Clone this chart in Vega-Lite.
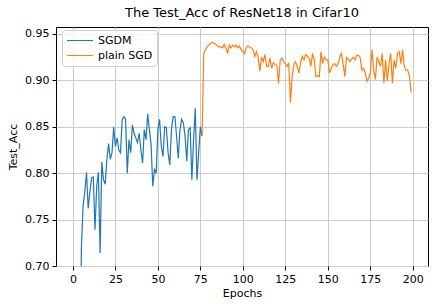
{
  "$schema": "https://vega.github.io/schema/vega-lite/v6.json",
  "autosize": {"type": "none"},
  "width": 372,
  "height": 239,
  "padding": {"left": 56, "top": 27, "right": 8, "bottom": 42},
  "background": "white",
  "config": {
    "font": "DejaVu Sans",
    "view": {"stroke": "black", "strokeWidth": 1},
    "axis": {"labelFont": "DejaVu Sans", "titleFont": "DejaVu Sans", "labelFontSize": 11, "titleFontSize": 11, "titleFontWeight": "normal", "labelColor": "black", "titleColor": "black", "tickColor": "black", "tickSize": 4, "labelPadding": 3, "domain": false, "gridColor": "#cccccc", "gridWidth": 1, "gridOpacity": 1}
  },
  "title": {"text": "The Test_Acc of ResNet18 in Cifar10", "font": "DejaVu Sans", "fontSize": 13, "fontWeight": "normal", "color": "black", "anchor": "middle", "offset": 7},
  "data": {"values": [
    {"epoch":0,"acc":0.30,"series":"SGDM"},{"epoch":1,"acc":0.48,"series":"SGDM"},{"epoch":2,"acc":0.55,"series":"SGDM"},{"epoch":3,"acc":0.60,"series":"SGDM"},{"epoch":4,"acc":0.56,"series":"SGDM"},{"epoch":5,"acc":0.72,"series":"SGDM"},{"epoch":6,"acc":0.765,"series":"SGDM"},{"epoch":7,"acc":0.78,"series":"SGDM"},{"epoch":8,"acc":0.801,"series":"SGDM"},{"epoch":9,"acc":0.762,"series":"SGDM"},
    {"epoch":10,"acc":0.780,"series":"SGDM"},{"epoch":11,"acc":0.795,"series":"SGDM"},{"epoch":12,"acc":0.796,"series":"SGDM"},{"epoch":13,"acc":0.739,"series":"SGDM"},{"epoch":14,"acc":0.786,"series":"SGDM"},{"epoch":15,"acc":0.801,"series":"SGDM"},{"epoch":16,"acc":0.714,"series":"SGDM"},{"epoch":17,"acc":0.812,"series":"SGDM"},{"epoch":18,"acc":0.793,"series":"SGDM"},{"epoch":19,"acc":0.788,"series":"SGDM"},
    {"epoch":20,"acc":0.815,"series":"SGDM"},{"epoch":21,"acc":0.832,"series":"SGDM"},{"epoch":22,"acc":0.815,"series":"SGDM"},{"epoch":23,"acc":0.822,"series":"SGDM"},{"epoch":24,"acc":0.850,"series":"SGDM"},{"epoch":25,"acc":0.829,"series":"SGDM"},{"epoch":26,"acc":0.838,"series":"SGDM"},{"epoch":27,"acc":0.825,"series":"SGDM"},{"epoch":28,"acc":0.822,"series":"SGDM"},{"epoch":29,"acc":0.858,"series":"SGDM"},
    {"epoch":30,"acc":0.861,"series":"SGDM"},{"epoch":31,"acc":0.858,"series":"SGDM"},{"epoch":32,"acc":0.800,"series":"SGDM"},{"epoch":33,"acc":0.836,"series":"SGDM"},{"epoch":34,"acc":0.822,"series":"SGDM"},{"epoch":35,"acc":0.852,"series":"SGDM"},{"epoch":36,"acc":0.843,"series":"SGDM"},{"epoch":37,"acc":0.838,"series":"SGDM"},{"epoch":38,"acc":0.833,"series":"SGDM"},{"epoch":39,"acc":0.843,"series":"SGDM"},
    {"epoch":40,"acc":0.825,"series":"SGDM"},{"epoch":41,"acc":0.811,"series":"SGDM"},{"epoch":42,"acc":0.847,"series":"SGDM"},{"epoch":43,"acc":0.836,"series":"SGDM"},{"epoch":44,"acc":0.864,"series":"SGDM"},{"epoch":45,"acc":0.847,"series":"SGDM"},{"epoch":46,"acc":0.831,"series":"SGDM"},{"epoch":47,"acc":0.786,"series":"SGDM"},{"epoch":48,"acc":0.804,"series":"SGDM"},{"epoch":49,"acc":0.800,"series":"SGDM"},
    {"epoch":50,"acc":0.847,"series":"SGDM"},{"epoch":51,"acc":0.858,"series":"SGDM"},{"epoch":52,"acc":0.829,"series":"SGDM"},{"epoch":53,"acc":0.818,"series":"SGDM"},{"epoch":54,"acc":0.850,"series":"SGDM"},{"epoch":55,"acc":0.849,"series":"SGDM"},{"epoch":56,"acc":0.822,"series":"SGDM"},{"epoch":57,"acc":0.809,"series":"SGDM"},{"epoch":58,"acc":0.847,"series":"SGDM"},{"epoch":59,"acc":0.861,"series":"SGDM"},
    {"epoch":60,"acc":0.861,"series":"SGDM"},{"epoch":61,"acc":0.840,"series":"SGDM"},{"epoch":62,"acc":0.816,"series":"SGDM"},{"epoch":63,"acc":0.847,"series":"SGDM"},{"epoch":64,"acc":0.858,"series":"SGDM"},{"epoch":65,"acc":0.854,"series":"SGDM"},{"epoch":66,"acc":0.840,"series":"SGDM"},{"epoch":67,"acc":0.813,"series":"SGDM"},{"epoch":68,"acc":0.847,"series":"SGDM"},{"epoch":69,"acc":0.849,"series":"SGDM"},
    {"epoch":70,"acc":0.793,"series":"SGDM"},{"epoch":71,"acc":0.836,"series":"SGDM"},{"epoch":72,"acc":0.870,"series":"SGDM"},{"epoch":73,"acc":0.793,"series":"SGDM"},{"epoch":74,"acc":0.822,"series":"SGDM"},{"epoch":75,"acc":0.850,"series":"SGDM"},{"epoch":76,"acc":0.840,"series":"SGDM"},
    {"epoch":76,"acc":0.840,"series":"plain SGD"},{"epoch":77,"acc":0.929,"series":"plain SGD"},{"epoch":78,"acc":0.933,"series":"plain SGD"},{"epoch":79,"acc":0.936,"series":"plain SGD"},
    {"epoch":80,"acc":0.938,"series":"plain SGD"},{"epoch":81,"acc":0.940,"series":"plain SGD"},{"epoch":82,"acc":0.941,"series":"plain SGD"},{"epoch":83,"acc":0.940,"series":"plain SGD"},{"epoch":84,"acc":0.939,"series":"plain SGD"},{"epoch":85,"acc":0.937,"series":"plain SGD"},{"epoch":86,"acc":0.936,"series":"plain SGD"},{"epoch":87,"acc":0.936,"series":"plain SGD"},{"epoch":88,"acc":0.935,"series":"plain SGD"},{"epoch":89,"acc":0.939,"series":"plain SGD"},
    {"epoch":90,"acc":0.935,"series":"plain SGD"},{"epoch":91,"acc":0.929,"series":"plain SGD"},{"epoch":92,"acc":0.938,"series":"plain SGD"},{"epoch":93,"acc":0.935,"series":"plain SGD"},{"epoch":94,"acc":0.938,"series":"plain SGD"},{"epoch":95,"acc":0.936,"series":"plain SGD"},{"epoch":96,"acc":0.938,"series":"plain SGD"},{"epoch":97,"acc":0.935,"series":"plain SGD"},{"epoch":98,"acc":0.937,"series":"plain SGD"},{"epoch":99,"acc":0.933,"series":"plain SGD"},
    {"epoch":100,"acc":0.931,"series":"plain SGD"},{"epoch":101,"acc":0.929,"series":"plain SGD"},{"epoch":102,"acc":0.935,"series":"plain SGD"},{"epoch":103,"acc":0.937,"series":"plain SGD"},{"epoch":104,"acc":0.936,"series":"plain SGD"},{"epoch":105,"acc":0.935,"series":"plain SGD"},{"epoch":106,"acc":0.933,"series":"plain SGD"},{"epoch":107,"acc":0.926,"series":"plain SGD"},{"epoch":108,"acc":0.931,"series":"plain SGD"},{"epoch":109,"acc":0.925,"series":"plain SGD"},
    {"epoch":110,"acc":0.910,"series":"plain SGD"},{"epoch":111,"acc":0.925,"series":"plain SGD"},{"epoch":112,"acc":0.920,"series":"plain SGD"},{"epoch":113,"acc":0.928,"series":"plain SGD"},{"epoch":114,"acc":0.915,"series":"plain SGD"},{"epoch":115,"acc":0.915,"series":"plain SGD"},{"epoch":116,"acc":0.924,"series":"plain SGD"},{"epoch":117,"acc":0.913,"series":"plain SGD"},{"epoch":118,"acc":0.919,"series":"plain SGD"},{"epoch":119,"acc":0.917,"series":"plain SGD"},
    {"epoch":120,"acc":0.916,"series":"plain SGD"},{"epoch":121,"acc":0.897,"series":"plain SGD"},{"epoch":122,"acc":0.922,"series":"plain SGD"},{"epoch":123,"acc":0.924,"series":"plain SGD"},{"epoch":124,"acc":0.920,"series":"plain SGD"},{"epoch":125,"acc":0.918,"series":"plain SGD"},{"epoch":126,"acc":0.915,"series":"plain SGD"},{"epoch":127,"acc":0.919,"series":"plain SGD"},{"epoch":128,"acc":0.876,"series":"plain SGD"},{"epoch":129,"acc":0.904,"series":"plain SGD"},
    {"epoch":130,"acc":0.917,"series":"plain SGD"},{"epoch":131,"acc":0.920,"series":"plain SGD"},{"epoch":132,"acc":0.915,"series":"plain SGD"},{"epoch":133,"acc":0.908,"series":"plain SGD"},{"epoch":134,"acc":0.919,"series":"plain SGD"},{"epoch":135,"acc":0.926,"series":"plain SGD"},{"epoch":136,"acc":0.922,"series":"plain SGD"},{"epoch":137,"acc":0.928,"series":"plain SGD"},{"epoch":138,"acc":0.926,"series":"plain SGD"},{"epoch":139,"acc":0.924,"series":"plain SGD"},
    {"epoch":140,"acc":0.915,"series":"plain SGD"},{"epoch":141,"acc":0.929,"series":"plain SGD"},{"epoch":142,"acc":0.922,"series":"plain SGD"},{"epoch":143,"acc":0.904,"series":"plain SGD"},{"epoch":144,"acc":0.905,"series":"plain SGD"},{"epoch":145,"acc":0.904,"series":"plain SGD"},{"epoch":146,"acc":0.931,"series":"plain SGD"},{"epoch":147,"acc":0.918,"series":"plain SGD"},{"epoch":148,"acc":0.925,"series":"plain SGD"},{"epoch":149,"acc":0.922,"series":"plain SGD"},
    {"epoch":150,"acc":0.922,"series":"plain SGD"},{"epoch":151,"acc":0.908,"series":"plain SGD"},{"epoch":152,"acc":0.913,"series":"plain SGD"},{"epoch":153,"acc":0.917,"series":"plain SGD"},{"epoch":154,"acc":0.918,"series":"plain SGD"},{"epoch":155,"acc":0.915,"series":"plain SGD"},{"epoch":156,"acc":0.918,"series":"plain SGD"},{"epoch":157,"acc":0.925,"series":"plain SGD"},{"epoch":158,"acc":0.929,"series":"plain SGD"},{"epoch":159,"acc":0.918,"series":"plain SGD"},
    {"epoch":160,"acc":0.904,"series":"plain SGD"},{"epoch":161,"acc":0.925,"series":"plain SGD"},{"epoch":162,"acc":0.923,"series":"plain SGD"},{"epoch":163,"acc":0.920,"series":"plain SGD"},{"epoch":164,"acc":0.923,"series":"plain SGD"},{"epoch":165,"acc":0.925,"series":"plain SGD"},{"epoch":166,"acc":0.922,"series":"plain SGD"},{"epoch":167,"acc":0.927,"series":"plain SGD"},{"epoch":168,"acc":0.927,"series":"plain SGD"},{"epoch":169,"acc":0.925,"series":"plain SGD"},
    {"epoch":170,"acc":0.911,"series":"plain SGD"},{"epoch":171,"acc":0.913,"series":"plain SGD"},{"epoch":172,"acc":0.908,"series":"plain SGD"},{"epoch":173,"acc":0.899,"series":"plain SGD"},{"epoch":174,"acc":0.902,"series":"plain SGD"},{"epoch":175,"acc":0.908,"series":"plain SGD"},{"epoch":176,"acc":0.933,"series":"plain SGD"},{"epoch":177,"acc":0.911,"series":"plain SGD"},{"epoch":178,"acc":0.901,"series":"plain SGD"},{"epoch":179,"acc":0.925,"series":"plain SGD"},
    {"epoch":180,"acc":0.920,"series":"plain SGD"},{"epoch":181,"acc":0.915,"series":"plain SGD"},{"epoch":182,"acc":0.929,"series":"plain SGD"},{"epoch":183,"acc":0.897,"series":"plain SGD"},{"epoch":184,"acc":0.922,"series":"plain SGD"},{"epoch":185,"acc":0.899,"series":"plain SGD"},{"epoch":186,"acc":0.918,"series":"plain SGD"},{"epoch":187,"acc":0.929,"series":"plain SGD"},{"epoch":188,"acc":0.897,"series":"plain SGD"},{"epoch":189,"acc":0.922,"series":"plain SGD"},
    {"epoch":190,"acc":0.913,"series":"plain SGD"},{"epoch":191,"acc":0.929,"series":"plain SGD"},{"epoch":192,"acc":0.931,"series":"plain SGD"},{"epoch":193,"acc":0.918,"series":"plain SGD"},{"epoch":194,"acc":0.933,"series":"plain SGD"},{"epoch":195,"acc":0.915,"series":"plain SGD"},{"epoch":196,"acc":0.911,"series":"plain SGD"},{"epoch":197,"acc":0.911,"series":"plain SGD"},{"epoch":198,"acc":0.905,"series":"plain SGD"},{"epoch":199,"acc":0.887,"series":"plain SGD"}
  ]},
  "mark": {"type": "line", "clip": true, "strokeWidth": 1.2},
  "encoding": {
    "x": {"field": "epoch", "type": "quantitative", "title": "Epochs",
      "scale": {"domain": [-9.95, 208.95], "nice": false, "zero": false},
      "axis": {"values": [0,25,50,75,100,125,150,175,200], "titlePadding": 3}},
    "y": {"field": "acc", "type": "quantitative", "title": "Test_Acc",
      "scale": {"domain": [0.70, 0.9575], "nice": false, "zero": false},
      "axis": {"values": [0.70,0.75,0.80,0.85,0.90,0.95], "format": ".2f", "titlePadding": 6}},
    "color": {"field": "series", "type": "nominal", "title": null,
      "scale": {"domain": ["SGDM", "plain SGD"], "range": ["#1f77b4", "#ff7f0e"]},
      "legend": {"orient": "none", "legendX": 6, "legendY": 3, "symbolType": "stroke", "symbolSize": 676, "symbolStrokeWidth": 1.2, "clipHeight": 13, "rowPadding": 2, "padding": 4, "labelOffset": 4, "labelFontSize": 11, "labelFont": "DejaVu Sans", "labelColor": "black", "strokeColor": "#d0d0d0", "fillColor": "rgba(255,255,255,0.8)", "cornerRadius": 3}}
  }
}
